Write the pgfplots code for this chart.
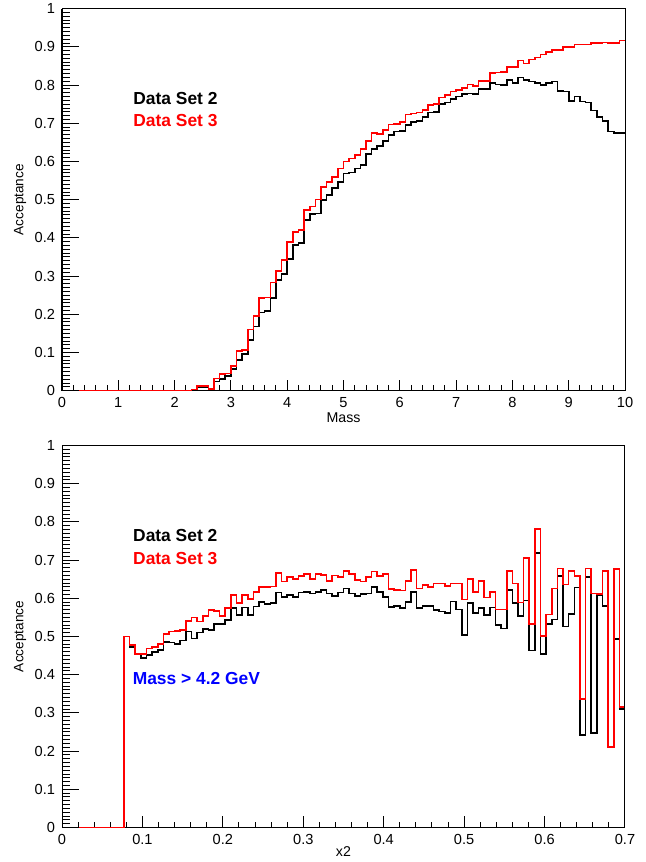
\documentclass[border=0pt]{standalone}
\usepackage{fontspec}
\setmainfont{Liberation Sans}
\usepackage{pgfplots}
\usepackage{pgfplotstable}
\pgfplotsset{compat=1.18}

\definecolor{rootred}{RGB}{255,0,0}
\definecolor{rootblue}{RGB}{0,0,255}

% bin lower edge, Data Set 2 (b), Data Set 3 (r); last row closes the last bin
\pgfplotstableread{
x    b     r
0    0     0
2.3  0.002 0.003
2.4  0.010 0.013
2.5  0.010 0.013
2.6  0.004 0.004
2.7  0.024 0.032
2.8  0.030 0.044
2.9  0.039 0.045
3.0  0.057 0.065
3.1  0.080 0.104
3.2  0.096 0.107
3.3  0.133 0.160
3.4  0.168 0.195
3.5  0.205 0.242
3.6  0.208 0.244
3.7  0.243 0.283
3.8  0.290 0.314
3.9  0.305 0.342
4.0  0.345 0.389
4.1  0.381 0.415
4.2  0.387 0.420
4.3  0.447 0.473
4.4  0.462 0.482
4.5  0.464 0.500
4.6  0.499 0.534
4.7  0.512 0.547
4.8  0.530 0.559
4.9  0.547 0.582
5.0  0.569 0.600
5.1  0.571 0.608
5.2  0.582 0.617
5.3  0.591 0.632
5.4  0.620 0.654
5.5  0.632 0.674
5.6  0.641 0.672
5.7  0.654 0.682
5.8  0.669 0.697
5.9  0.678 0.698
6.0  0.680 0.704
6.1  0.696 0.723
6.2  0.704 0.726
6.3  0.706 0.728
6.4  0.717 0.735
6.5  0.728 0.748
6.6  0.730 0.750
6.7  0.750 0.768
6.8  0.754 0.774
6.9  0.763 0.783
7.0  0.770 0.787
7.1  0.776 0.793
7.2  0.778 0.802
7.3  0.776 0.798
7.4  0.789 0.811
7.5  0.789 0.811
7.6  0.805 0.831
7.7  0.802 0.833
7.8  0.800 0.835
7.9  0.813 0.848
8.0  0.805 0.848
8.1  0.820 0.864
8.2  0.813 0.857
8.3  0.809 0.867
8.4  0.806 0.872
8.5  0.800 0.880
8.6  0.805 0.886
8.7  0.809 0.892
8.8  0.785 0.892
8.9  0.783 0.900
9.0  0.759 0.900
9.1  0.770 0.906
9.2  0.757 0.906
9.3  0.754 0.906
9.4  0.733 0.910
9.5  0.717 0.910
9.6  0.706 0.912
9.7  0.678 0.910
9.8  0.674 0.910
9.9  0.674 0.917
10.0 0.674 0.917
}\masstab

\pgfplotstableread{
x     b     r
0     0     0
0.077 0.500 0.500
0.084 0.473 0.478
0.091 0.454 0.454
0.098 0.443 0.454
0.105 0.451 0.469
0.112 0.460 0.473
0.119 0.465 0.480
0.126 0.486 0.506
0.133 0.484 0.513
0.140 0.481 0.515
0.147 0.490 0.517
0.154 0.513 0.541
0.161 0.495 0.550
0.168 0.510 0.539
0.175 0.519 0.554
0.182 0.517 0.569
0.189 0.532 0.567
0.196 0.532 0.554
0.203 0.543 0.574
0.210 0.574 0.609
0.217 0.556 0.587
0.224 0.576 0.609
0.231 0.556 0.598
0.238 0.579 0.617
0.245 0.591 0.630
0.252 0.585 0.629
0.259 0.587 0.631
0.266 0.615 0.667
0.273 0.603 0.644
0.280 0.609 0.655
0.287 0.603 0.651
0.294 0.615 0.658
0.301 0.617 0.663
0.308 0.613 0.651
0.315 0.617 0.663
0.322 0.622 0.661
0.329 0.613 0.645
0.336 0.606 0.660
0.343 0.615 0.655
0.350 0.626 0.671
0.357 0.613 0.663
0.364 0.606 0.648
0.371 0.611 0.644
0.378 0.613 0.655
0.385 0.630 0.670
0.392 0.617 0.658
0.399 0.603 0.663
0.406 0.578 0.624
0.413 0.580 0.622
0.420 0.574 0.620
0.427 0.591 0.646
0.434 0.617 0.674
0.441 0.574 0.626
0.448 0.580 0.635
0.455 0.580 0.630
0.462 0.569 0.639
0.469 0.565 0.639
0.476 0.561 0.632
0.483 0.592 0.639
0.490 0.571 0.639
0.497 0.504 0.597
0.504 0.587 0.651
0.511 0.561 0.617
0.518 0.575 0.645
0.525 0.556 0.602
0.532 0.576 0.617
0.539 0.530 0.571
0.546 0.521 0.571
0.553 0.622 0.671
0.560 0.587 0.639
0.567 0.554 0.589
0.574 0.594 0.705
0.581 0.463 0.532
0.588 0.719 0.781
0.595 0.454 0.501
0.602 0.533 0.558
0.609 0.545 0.626
0.616 0.659 0.678
0.623 0.526 0.636
0.630 0.559 0.671
0.637 0.628 0.658
0.644 0.242 0.337
0.651 0.655 0.678
0.658 0.247 0.613
0.665 0.609 0.611
0.672 0.580 0.672
0.679 0.210 0.210
0.686 0.493 0.676
0.693 0.310 0.315
0.700 0.310 0.315
}\xtwotab

\pgfplotsset{
  rootbase/.style={
    scale only axis, width=281.5pt, height=191pt, anchor=south west,
    ymin=0, ymax=1, tick align=inside,
    axis line style={line width=0.5pt},
    every tick/.style={line width=0.5pt, black},
    ticklabel style={font=\fontsize{7.3}{8}\selectfont},
    /pgf/number format/assume math mode=true,
  },
  % frame, data and x ticks
  xpart/.style={
    ytick=\empty, xtick pos=left, minor x tick num=4,
    major tick length=5.5pt, minor tick length=2.8pt,
    every axis x label/.style={at={(axis description cs:0.5,#1)},
      anchor=center, font=\fontsize{7.1}{8}\selectfont},
  },
  % y ticks are longer in the original, so a second axis draws them
  ypart/.style={
    hide x axis, ytick pos=left, minor y tick num=9,
    ytick={0,0.1,0.2,0.3,0.4,0.5,0.6,0.7,0.8,0.9,1},
    yticklabel style={/pgf/number format/fixed},
    major tick length=8.5pt, minor tick length=4pt,
    ylabel={Acceptance},
    every axis y label/.style={at={(axis description cs:-0.0746,0.5)},
      rotate=90, anchor=center, font=\fontsize{6.8}{8}\selectfont},
  },
  steps/.style={const plot, line width=0.8pt, no marks},
}

\begin{document}
\begin{tikzpicture}
\useasboundingbox (0pt,0pt) rectangle (323pt,431pt);

% top panel: acceptance vs mass
\begin{axis}[rootbase, xpart=-0.0715, at={(31pt,235.65pt)},
  xmin=0, xmax=10, xtick={0,1,2,3,4,5,6,7,8,9,10}, xlabel={Mass}]
  \addplot[steps, black] table[x=x, y=b] {\masstab};
  \addplot[steps, rootred] table[x=x, y=r] {\masstab};
\end{axis}
\begin{axis}[rootbase, ypart, at={(31pt,235.65pt)}, xmin=0, xmax=10]
\end{axis}
\node[anchor=base west, inner sep=0pt, font=\fontsize{8.7}{10}\selectfont\bfseries]
  at (66.5pt,378.5pt) {Data Set 2};
\node[anchor=base west, inner sep=0pt, text=rootred, font=\fontsize{8.7}{10}\selectfont\bfseries]
  at (66.5pt,367.6pt) {Data Set 3};

% bottom panel: acceptance vs x2
\begin{axis}[rootbase, xpart=-0.064, at={(31pt,17.25pt)},
  xmin=0, xmax=0.7, xtick={0,0.1,0.2,0.3,0.4,0.5,0.6,0.7},
  xticklabel style={/pgf/number format/fixed}, xlabel={x2}]
  \addplot[steps, black] table[x=x, y=b] {\xtwotab};
  \addplot[steps, rootred] table[x=x, y=r] {\xtwotab};
\end{axis}
\begin{axis}[rootbase, ypart, at={(31pt,17.25pt)}, xmin=0, xmax=0.7]
\end{axis}
\node[anchor=base west, inner sep=0pt, font=\fontsize{8.7}{10}\selectfont\bfseries]
  at (66.4pt,160.2pt) {Data Set 2};
\node[anchor=base west, inner sep=0pt, text=rootred, font=\fontsize{8.7}{10}\selectfont\bfseries]
  at (66.4pt,148.6pt) {Data Set 3};
\node[anchor=base west, inner sep=0pt, text=rootblue, font=\fontsize{8.7}{10}\selectfont\bfseries]
  at (66.2pt,88.5pt) {Mass > 4.2 GeV};
\end{tikzpicture}
\end{document}
